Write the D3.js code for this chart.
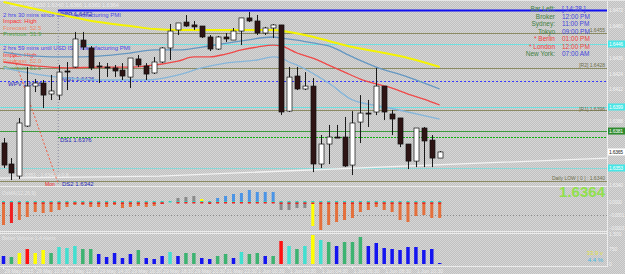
<!DOCTYPE html>
<html><head><meta charset="utf-8">
<script src="https://cdn.jsdelivr.net/npm/d3@7"></script>
<style>
body{margin:0;background:#c8c8c8;overflow:hidden}
svg{display:block}
text{font-family:"Liberation Sans",Arial,sans-serif}
</style></head>
<body><svg id="c" width="625" height="274"></svg>
<script>
// ---------------- DATA ----------------
const symbolHeader = "GBPUSD,M30  1.6360 1.6366 1.6360 1.6364";
const opens  = [1.63715,1.63556,1.63465,1.63843,1.64145,1.64168,1.64085,1.64077,1.64259,1.64289,1.64493,1.64433,1.64297,1.64289,1.64282,1.64266,1.64213,1.64350,1.64297,1.64244,1.64327,1.64433,1.64569,1.64629,1.64607,1.64599,1.64516,1.64425,1.64516,1.64493,1.64561,1.64660,1.64637,1.64546,1.64584,1.64607,1.63956,1.64221,1.64123,1.64145,1.63556,1.63707,1.63760,1.63760,1.63548,1.63873,1.63941,1.63949,1.64145,1.63934,1.63904,1.63707,1.63578,1.63828,1.63737,1.63601];
const highs  = [1.63752,1.63601,1.63904,1.64289,1.64198,1.64191,1.64229,1.64304,1.64327,1.64554,1.64554,1.64448,1.64327,1.64319,1.64304,1.64319,1.64357,1.64380,1.64319,1.64365,1.64440,1.64614,1.64622,1.64682,1.64637,1.64599,1.64531,1.64523,1.64546,1.64584,1.64660,1.64705,1.64682,1.64592,1.64614,1.64607,1.64289,1.64289,1.64251,1.64206,1.63775,1.63851,1.63851,1.63911,1.63956,1.64077,1.64040,1.64282,1.64145,1.63964,1.63904,1.63707,1.63828,1.63836,1.63775,1.63654];
const lows   = [1.63526,1.63435,1.63442,1.63836,1.64100,1.63979,1.64040,1.64040,1.64115,1.64282,1.64418,1.64266,1.64168,1.64213,1.64213,1.64191,1.64130,1.64289,1.64191,1.64236,1.64319,1.64342,1.64531,1.64592,1.64569,1.64508,1.64410,1.64418,1.64478,1.64493,1.64455,1.64629,1.64531,1.64531,1.64508,1.63926,1.63949,1.64115,1.64115,1.63495,1.63526,1.63556,1.63752,1.63533,1.63473,1.63715,1.63836,1.63926,1.63888,1.63775,1.63684,1.63518,1.63533,1.63533,1.63533,1.63601];
const closes = [1.63548,1.63488,1.63866,1.64145,1.64168,1.64077,1.64108,1.64251,1.64251,1.64501,1.64440,1.64282,1.64289,1.64282,1.64259,1.64221,1.64357,1.64304,1.64236,1.64327,1.64433,1.64561,1.64622,1.64599,1.64592,1.64516,1.64425,1.64516,1.64501,1.64561,1.64660,1.64637,1.64546,1.64584,1.64607,1.63949,1.64213,1.64123,1.64145,1.63556,1.63707,1.63760,1.63752,1.63541,1.63866,1.63941,1.63934,1.64145,1.63949,1.63896,1.63707,1.63578,1.63828,1.63730,1.63601,1.63647];

// moving averages: [bar index, price]
const maYellow = [[0,1.64780],[4,1.64728],[8,1.64675],[12,1.64629],[16,1.64599],[19,1.64576],[22,1.64569],[28,1.64569],[34,1.64569],[36,1.64554],[38,1.64531],[41,1.64486],[44,1.64440],[48,1.64395],[51,1.64357],[55,1.64289]];
const maRed    = [[0,1.64327],[4,1.64297],[8,1.64282],[12,1.64289],[16,1.64289],[18,1.64297],[22,1.64334],[24,1.64365],[26,1.64365],[28,1.64387],[30,1.64418],[32,1.64440],[34,1.64455],[35,1.64448],[37,1.64395],[39,1.64357],[41,1.64304],[43,1.64251],[45,1.64198],[47,1.64161],[49,1.64130],[51,1.64085],[53,1.64047],[55,1.64002]];
const maSteel  = [[0,1.64402],[4,1.64372],[8,1.64365],[12,1.64372],[16,1.64395],[19,1.64418],[22,1.64418],[26,1.64448],[30,1.64486],[34,1.64516],[35,1.64508],[37,1.64493],[39,1.64471],[41,1.64448],[44,1.64365],[47,1.64289],[51,1.64213],[55,1.64123]];
const maLight  = [[0,1.64282],[4,1.64236],[8,1.64206],[12,1.64191],[16,1.64191],[18,1.64191],[22,1.64229],[25,1.64282],[28,1.64319],[32,1.64342],[34,1.64365],[35,1.64357],[36,1.64327],[37,1.64304],[41,1.64168],[44,1.64040],[48,1.63987],[51,1.63949],[55,1.63896]];

// horizontal levels (prices)
const levelPrices = [1.6472,1.64546,1.64463,1.64282,1.64183,1.63987,1.63964,1.63805,1.6376,1.63526,1.63424];
const trendWhite = [[-0.44,1.63450],[19.7,1.63465],[76.1,1.63601]];
const trendRed   = [[1.07,1.64402],[6.87,1.63412]];
const vLineIndex = 6.9;

const priceTicks = [1.6472,1.6460,1.6448,1.6436,1.6424,1.6412,1.6400,1.6388,1.6376,1.6364,1.6352,1.6340];

const newsLines = ["2 hrs 30 mins since GBP Manufacturing PMI","Impact: High","Forecast: 52.5","Previous: 51.9",
                   "2 hrs 59 mins until USD ISM Manufacturing PMI","Impact: High","Forecast: 52.0","Previous: 51.5"];
const pivotNames  = ["DPP","MS1","WPV","DS1","DS2"];
const pivotValues = ["1.6472","1.6426","1.6418","1.6376","1.6342"];
const clockLabels = ["Bar Left:","Broker","Sydney:","Tokyo","* Berlin","* London","New York:"];
const clockTimes  = ["[ 14:28 ]","12:00 PM","11:00 PM","09:00 PM","01:00 PM","12:00 PM","07:00 AM"];
const rightLabels = ["1.6455","[R2]  1.6428","[R1]  1.6396","Daily LOW [ 0 ] : 1.6340"];
const bigPrice = "1.6364";

// OsMA-like histogram (price units) and colour classes
const osma = [-23,-21,-18,-15,-10,-11,-10,-8,-5,-3,-3,-5,-5,-5,-3,-6,-5,-4,-5,-4,-2,-1,4,5,6,3,-1,4,6,8,9,12,10,10,10,-8,-8,-6,-6,-24,-28,-23,-20,-18,-16,-10,-8,-5,-8,-10,-18,-20,-14,-13,-16,-16].map(v=>v*1e-5);
const osmaCls = ("or" + "oooooooooooooooooo" + "rcgggyr" + "bbbbbbbb" + "ggggy" + "oooooooooooooooo").split("");
// volumes and colour classes
const volumes = [400,350,550,750,550,700,550,850,800,900,750,750,500,350,550,300,500,700,300,250,400,600,400,550,550,300,250,400,500,300,600,500,550,400,400,1150,900,750,900,1450,1200,1100,900,1100,1100,1350,900,1050,800,750,700,850,850,700,750,50];
const volCls  = ("bgyryyg" + "cccgg" + "bbbbb" + "g" + "bbb" + "c" + "b" + "gg" + "bb" + "gg" + "b" + "c" + "gg" + "b" + "g" + "rcgcycgb" + "ggg" + "bbbbbbbbbb").split("");
const timeLabels = [[0,"29 May 2015"],[4,"29 May 10:30"],[8,"29 May 12:30"],[12,"29 May 14:30"],[16,"29 May 16:30"],[20,"29 May 18:30"],[24,"29 May 20:30"],[28,"31 May 22:30"],[32,"1 Jun 00:30"],[36,"1 Jun 02:30"],[40,"1 Jun 04:30"],[44,"1 Jun 06:30"],[48,"1 Jun 08:30"],[52,"1 Jun 10:30"]];
const osmaTicks = [0,-0.00013,-0.00026];
const volTicks = [1500,750,0];

// ---------------- DRAW ----------------
const W=625,H=274,R=607;
const svg=d3.select("#c");
const defs=svg.append("defs");
const pat=defs.append("pattern").attr("id","bg").attr("width",2).attr("height",2).attr("patternUnits","userSpaceOnUse");
pat.append("rect").attr("width",2).attr("height",2).attr("fill","#c0c0c0");
pat.append("rect").attr("width",1).attr("height",1).attr("fill","#d6d6d6");
pat.append("rect").attr("x",1).attr("y",1).attr("width",1).attr("height",1).attr("fill","#d6d6d6");
svg.append("rect").attr("width",W).attr("height",H).attr("fill","url(#bg)");

const x=d3.scaleLinear().domain([0,55]).range([3.5,439.7]);
const y=d3.scaleLinear().domain([1.6472,1.6342]).range([10,182]);
const main=svg.append("g");

// level lines
const levelStyle=[
 {c:"#1010f0",w:2,d:null,x0:58},
 {c:"#8a8a62",w:1,d:null,x0:0},
 {c:"#6ee0e0",w:1.2,d:null,x0:0},
 {c:"#8a8a62",w:1,d:null,x0:0},
 {c:"#3a3aff",w:1,d:"2,2",x0:0},
 {c:"#6ee0e0",w:1.2,d:null,x0:0},
 {c:"#8a8a62",w:1,d:null,x0:0},
 {c:"#3c9c3c",w:1.2,d:null,x0:0},
 {c:"#10b010",w:1,d:"2,1",x0:58},
 {c:"#8ad8d8",w:1.2,d:null,x0:0},
 {c:"#8a8a62",w:1,d:null,x0:0}];
levelPrices.forEach((p,i)=>{
  const s=levelStyle[i];
  main.append("line").attr("x1",s.x0).attr("x2",R).attr("y1",Math.round(y(p))+0.5).attr("y2",Math.round(y(p))+0.5)
   .attr("stroke",s.c).attr("stroke-width",s.w).attr("stroke-dasharray",s.d);
});
// vertical dotted line
main.append("line").attr("x1",x(vLineIndex)).attr("x2",x(vLineIndex)).attr("y1",0).attr("y2",186)
 .attr("stroke","#8a8aa0").attr("stroke-dasharray","1,2");
// trend lines
const tl=d3.line().x(d=>x(d[0])).y(d=>y(d[1]));
main.append("path").attr("d",tl(trendWhite)).attr("fill","none").attr("stroke","#f2f2f2").attr("stroke-width",1.3);
main.append("path").attr("d",tl(trendRed)).attr("fill","none").attr("stroke","#f05a40").attr("stroke-dasharray","2,2");

// header
main.append("text").attr("x",10).attr("y",7).attr("font-size",5.5).attr("fill","#ececec").text(symbolHeader);

// news text
const newsY=[16.5,22.5,29.5,36,49.5,56.5,63,69.5];
const newsC=["#4848e8","#ff3030","#f08a6a","#52a852","#4848e8","#ff3030","#f08a6a","#52a852"];
newsLines.forEach((t,i)=>main.append("text").attr("x",3).attr("y",newsY[i]).attr("font-size",6).attr("fill",newsC[i]).text(t));

// pivot labels
const pvX=[60,62,8,60,62], pvY=[15.5,80.5,85.5,142,186];
pivotNames.forEach((n,i)=>main.append("text").attr("x",pvX[i]).attr("y",pvY[i]).attr("font-size",6).attr("fill","#2a2ab8")
  .text(n+"  "+pivotValues[i]));
main.append("text").attr("x",45).attr("y",186).attr("font-size",5).attr("fill","#f02020").text("Mon");
main.append("text").attr("x",10).attr("y",177).attr("font-size",5).attr("fill","#e8e8e8").text("H-L: 1.6351 - 1.6342 = 0.8");

// moving averages
const ml=d3.line().x(d=>x(d[0])).y(d=>y(d[1])).curve(d3.curveMonotoneX);
main.append("path").attr("d",ml(maLight)).attr("fill","none").attr("stroke","#86b6da").attr("stroke-width",1.3);
main.append("path").attr("d",ml(maSteel)).attr("fill","none").attr("stroke","#6497c2").attr("stroke-width",1.3);
main.append("path").attr("d",ml(maRed)).attr("fill","none").attr("stroke","#f04848").attr("stroke-width",1.3);
main.append("path").attr("d",ml(maYellow)).attr("fill","none").attr("stroke","#f4f400").attr("stroke-width",2);

// candles
const cg=main.append("g");
opens.forEach((o,i)=>{
  const c=closes[i], cx=Math.round(x(i))+0.5;
  cg.append("line").attr("x1",cx).attr("x2",cx).attr("y1",y(highs[i])).attr("y2",y(lows[i])).attr("stroke","#1a1a1a");
  const top=y(Math.max(o,c)), bot=y(Math.min(o,c));
  cg.append("rect").attr("x",cx-2.5).attr("y",top).attr("width",5).attr("height",Math.max(1,bot-top))
    .attr("fill",c>=o?"#ffffff":"#2e1414").attr("stroke","#111").attr("stroke-width",0.7);
});

// clock panel
const clY=[11,18.5,26,33.5,41,48.5,56];
clockLabels.forEach((t,i)=>{
  const red=t.startsWith("*");
  main.append("text").attr("x",555).attr("y",clY[i]).attr("text-anchor","end").attr("font-size",6.5)
    .attr("fill",red?"#f04040":"#3f7f3f").text(t);
  main.append("text").attr("x",562).attr("y",clY[i]).attr("font-size",6.5)
    .attr("fill",red?"#f04040":"#4444dd").text(clockTimes[i]);
});
// right line labels
const rlY=[32,66.5,111,180];
rightLabels.forEach((t,i)=>main.append("text").attr("x",605).attr("y",rlY[i]).attr("text-anchor","end")
  .attr("font-size",5).attr("fill","#6e6e4a").text(t));

// coloured price boxes (levels + current price)
const boxes=[[levelPrices[2],"#46e6e6","#ffffff"],[levelPrices[5],"#46e6e6","#ffffff"],[levelPrices[7],"#2c8a2c","#ffffff"],[closes[55],"#ffffff","#222"],[levelPrices[9],"#46e6e6","#ffffff"]];
// price axis (ticks hidden under the boxes are left out)
const shownTicks=priceTicks.filter(t=>boxes.every(b=>Math.abs(y(t)-y(b[0]))>6));
const ax=svg.append("g").attr("transform",`translate(${R},0)`)
  .call(d3.axisRight(y).tickValues(shownTicks).tickFormat(d3.format(".4f")).tickSize(1).tickPadding(1));
ax.select(".domain").remove();
ax.selectAll("line").attr("stroke","#eeeeee");
ax.selectAll("text").attr("font-size",5).attr("letter-spacing",-0.25).attr("fill","#f2f2f2").attr("font-family","Liberation Sans");
boxes.forEach(b=>{
  const yy=y(b[0]);
  svg.append("rect").attr("x",R+1).attr("y",yy-3.5).attr("width",18).attr("height",7).attr("fill",b[1]);
  svg.append("text").attr("x",R+2).attr("y",yy+2).attr("font-size",5).attr("letter-spacing",-0.25).attr("fill",b[2]).text(d3.format(".4f")(b[0]));
});

// frame lines
svg.append("line").attr("x1",R+0.5).attr("x2",R+0.5).attr("y1",0).attr("y2",267).attr("stroke","#ececec");
svg.append("line").attr("x1",0).attr("x2",W).attr("y1",0.5).attr("y2",0.5).attr("stroke","#e6e6e6");
[186.5,231.5,233.5,266.5].forEach(v=>svg.append("line").attr("x1",0).attr("x2",R).attr("y1",v).attr("y2",v).attr("stroke","#ececec"));

// big price
svg.append("text").attr("x",605).attr("y",197).attr("text-anchor","end").attr("font-size",15).attr("font-weight","bold")
  .attr("fill","#90e04c").text(bigPrice);

// ---- sub pane 1 : histogram ----
const yo=d3.scaleLinear().domain([0,-0.00028]).range([202,230]);
svg.append("text").attr("x",2).attr("y",195).attr("font-size",5).attr("fill","#e6e6e6").text("OsMA(12,26,9)");
svg.append("line").attr("x1",0).attr("x2",R).attr("y1",215.5).attr("y2",215.5).attr("stroke","#8c8c8c").attr("stroke-dasharray","1,2");
const oc={o:"#e4703c",r:"#f02020",g:"#8a8a8a",y:"#ffff00",b:"#4a94e6",c:"#30d0c0"};
osma.forEach((v,i)=>{
  const cx=x(i), y0=yo(0), y1=yo(v), k=osmaCls[i];
  if(k!=="c") svg.append("rect").attr("x",cx-1.5).attr("width",3).attr("y",Math.min(y0,y1)).attr("height",Math.abs(y1-y0)).attr("fill",oc[k]);
  svg.append("rect").attr("x",cx-1.5).attr("width",3).attr("y",y0-1).attr("height",1.5).attr("fill","#30d0c0");
  if(v<0 && k!=="c") svg.append("rect").attr("x",cx-1.5).attr("width",3).attr("y",y0+0.5).attr("height",1.5).attr("fill","#f02020");
  if(v>0) svg.append("rect").attr("x",cx-1.5).attr("width",3).attr("y",y0).attr("height",1.5).attr("fill","#f02020");
});
const ao=svg.append("g").attr("transform",`translate(${R},0)`).call(d3.axisRight(yo).tickValues(osmaTicks).tickFormat(d3.format(".4f")).tickSize(1).tickPadding(1));
ao.select(".domain").remove(); ao.selectAll("line").attr("stroke","#eee");
ao.selectAll("text").attr("font-size",4.6).attr("letter-spacing",-0.25).attr("fill","#f0f0f0");

// ---- sub pane 2 : volumes ----
const yv=d3.scaleLinear().domain([0,1500]).range([264,234]);
svg.append("text").attr("x",2).attr("y",240).attr("font-size",5).attr("fill","#e6e6e6").text("Better Volume 1.4 Alerts");
const vc={b:"#1414f0",g:"#3cb371",y:"#ffff00",r:"#ff1010",c:"#40e0d0"};
volumes.forEach((v,i)=>{
  svg.append("rect").attr("x",x(i)-1.75).attr("width",3.5).attr("y",yv(v)).attr("height",yv(0)-yv(v)).attr("fill",vc[volCls[i]]);
});
const av=svg.append("g").attr("transform",`translate(${R},0)`).call(d3.axisRight(yv).tickValues(volTicks).tickSize(1).tickPadding(1));
av.select(".domain").remove(); av.selectAll("line").attr("stroke","#eee");
av.selectAll("text").attr("font-size",5).attr("fill","#f0f0f0");
svg.append("text").attr("x",603).attr("y",255).attr("text-anchor","end").attr("font-size",6).attr("fill","#e0e040").text("33.9 v");
svg.append("text").attr("x",603).attr("y",262).attr("text-anchor","end").attr("font-size",6).attr("fill","#40b8e0").text("4.4 %");

// ---- time axis ----
timeLabels.forEach(t=>{
  svg.append("line").attr("x1",x(t[0])).attr("x2",x(t[0])).attr("y1",267).attr("y2",269).attr("stroke","#eee");
  svg.append("text").attr("x",x(t[0])+1).attr("y",273).attr("font-size",5).attr("fill","#eeeeee").text(t[1]);
});
</script></body></html>
